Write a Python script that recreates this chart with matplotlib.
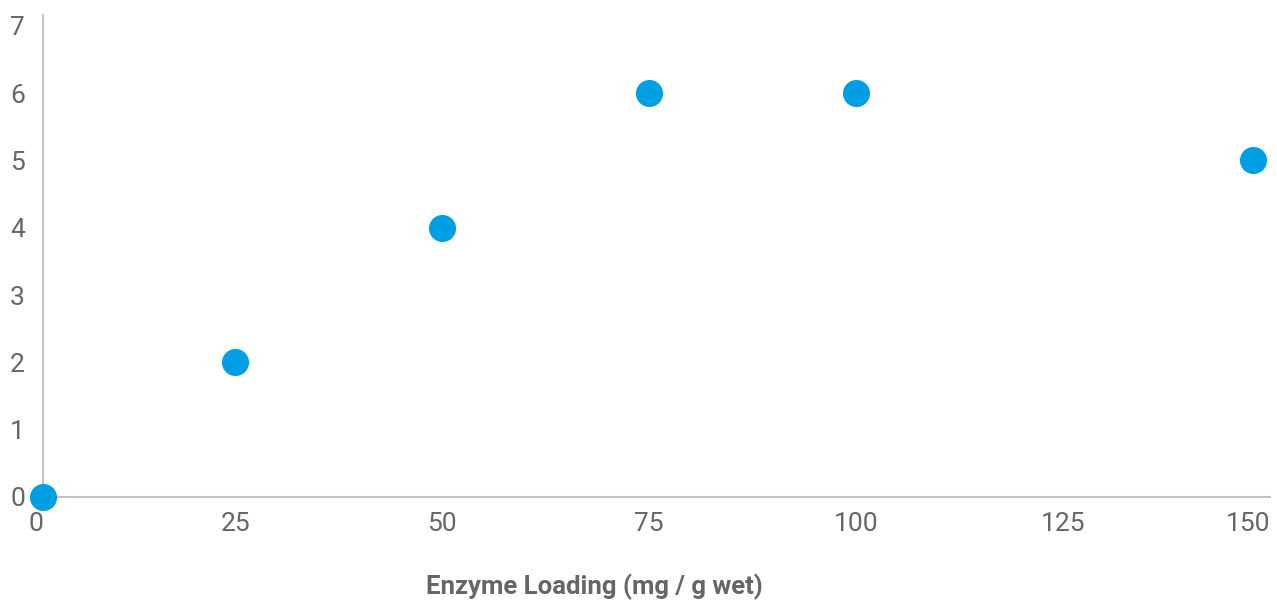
import matplotlib.pyplot as plt

# enzyme loading vs response
loading = [1.8, 25, 50, 75, 100, 148]
response = [0, 2, 4, 6, 6, 5]

xtick_pos = [1.8, 25, 50, 75, 100, 125, 150]
xtick_labels = ['0', '25', '50', '75', '100', '125', '150']
ytick_pos = [0, 1, 2, 3, 4, 5, 6, 7]

plt.rcParams['font.family'] = ['Roboto', 'DejaVu Sans']

fig = plt.figure(figsize=(12.77, 6.01), dpi=100)
ax = fig.add_axes([43 / 1277, 104 / 601, (1270 - 43) / 1277, (497 - 15) / 601])

ax.scatter(loading, response, s=380, color='#009ee2', zorder=3, clip_on=False,
           linewidths=0)

ax.set_xlim(1.8, 150)
ax.set_ylim(0, 7.16)

for side in ['top', 'right']:
    ax.spines[side].set_visible(False)
for side in ['left', 'bottom']:
    ax.spines[side].set_color('#c4c4c4')
    ax.spines[side].set_linewidth(1.5)

ax.set_xticks(xtick_pos)
ax.set_xticklabels(xtick_labels)
ax.set_yticks(ytick_pos)
ax.tick_params(axis='both', length=0, labelsize=19, labelcolor='#666666')
ax.tick_params(axis='x', pad=11)
ax.tick_params(axis='y', pad=13)
xl = ax.get_xticklabels()
xl[0].set_horizontalalignment('right')
xl[-1].set_horizontalalignment('right')

ax.set_xlabel('Enzyme Loading (mg / g wet)', fontsize=18.5, fontweight='bold',
              color='#666666', va='center')
ax.xaxis.set_label_coords(0.449, -0.187)

fig.savefig('out.png', dpi=100)
